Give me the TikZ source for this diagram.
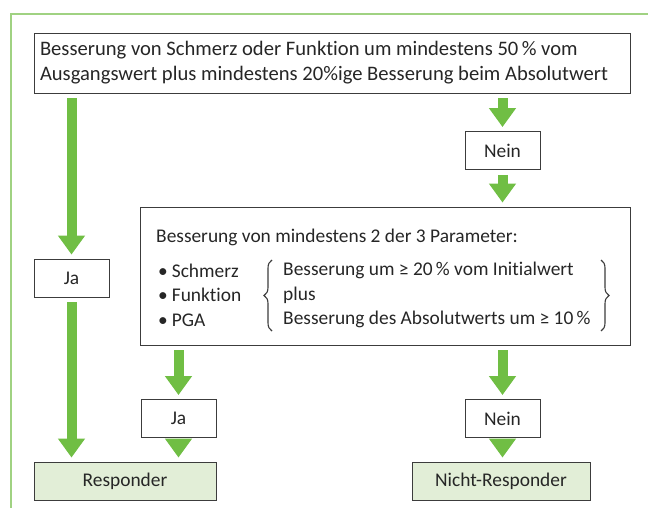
\documentclass[tikz,border=0pt]{standalone}
\usepackage{fontspec}
\setmainfont{Carlito}[Ligatures=NoCommon]
\usetikzlibrary{arrows.meta,decorations.pathreplacing}

\definecolor{rahmengruen}{RGB}{160,210,130}
\definecolor{pfeilgruen}{RGB}{112,190,68}
\definecolor{boxgruen}{RGB}{226,238,215}
\definecolor{randgrau}{RGB}{60,60,60}

\tikzset{
  kasten/.style={draw=randgrau, line width=0.9pt, inner xsep=6pt, inner ysep=0pt,
    minimum height=38pt, align=center, text=black!85,
    font=\fontsize{19.4}{25}\selectfont},
  ergebnis/.style={kasten, fill=boxgruen},
  textblock/.style={inner sep=0pt, align=flush left, text=black!85,
    font=\fontsize{19.4}{24.5}\selectfont},
  pfeil/.style={draw=pfeilgruen, line width=10pt,
    -{Triangle[length=19pt, width=26pt]}, shorten <=5pt, shorten >=4pt},
}

\begin{document}
\begin{tikzpicture}[x=1pt, y=-1pt]
    \useasboundingbox (0,0) rectangle (648,508);

    % Rahmen
    \draw[rahmengruen, line width=1.2pt] (11,508) -- (11,14) -- (648,14);

    % Kaesten
    \node[kasten, minimum width=596pt, minimum height=60pt, text width=584pt, align=flush left,
        font=\fontsize{20.6}{25}\selectfont] (frage) at (332,63)
        {Besserung von Schmerz oder Funktion um mindestens 50\,\% vom\\Ausgangswert plus mindestens 20\%ige Besserung beim Absolutwert};
    \node[kasten, minimum width=75pt] (ja1) at (71.5,278) {Ja};
    \node[kasten, minimum width=75pt] (nein1) at (502.5,150.5) {Nein};
    \node[kasten, minimum width=490pt, minimum height=138pt] (kriterien) at (385,276) {};
    \node[kasten, minimum width=75pt] (ja2) at (178.5,418.5) {Ja};
    \node[kasten, minimum width=75pt] (nein2) at (502.5,418.5) {Nein};
    \node[ergebnis, minimum width=182pt] (resp) at (125,481) {Responder};
    \node[ergebnis, minimum width=178pt] (nichtresp) at (501,481) {Nicht-Responder};

    % Inhalt des Kriterienkastens
    \node[textblock, anchor=west] (kopf) at (156,237) {Besserung von mindestens 2 der 3 Parameter:};
    \node[textblock, anchor=west] (liste) at (158,295)
        {\textbullet\hspace{4pt}Schmerz\\\textbullet\hspace{4pt}Funktion\\\textbullet\hspace{4pt}PGA};
    \node[textblock, anchor=west] (bedingung) at (283,295)
        {Besserung um ≥ 20\,\% vom Initialwert\\plus\\Besserung des Absolutwerts um ≥ 10\,\%};
    \draw[randgrau, line width=1.1pt, decorate, decoration={brace, amplitude=8pt}]
        (272,331) -- (272,260);
    \draw[randgrau, line width=1.1pt, decorate, decoration={brace, amplitude=8pt}]
        (601,260) -- (601,331);

    % Pfeile
    \draw[pfeil] (frage.south -| ja1) -- (ja1.north);
    \draw[pfeil] (ja1.south) -- (resp.north -| ja1);
    \draw[pfeil] (frage.south -| nein1) -- (nein1.north);
    \draw[pfeil] (nein1.south) -- (kriterien.north -| nein1);
    \draw[pfeil] (kriterien.south -| ja2) -- (ja2.north);
    \draw[pfeil] (ja2.south) -- (resp.north -| ja2);
    \draw[pfeil] (kriterien.south -| nein2) -- (nein2.north);
    \draw[pfeil] (nein2.south) -- (nichtresp.north -| nein2);
\end{tikzpicture}
\end{document}
